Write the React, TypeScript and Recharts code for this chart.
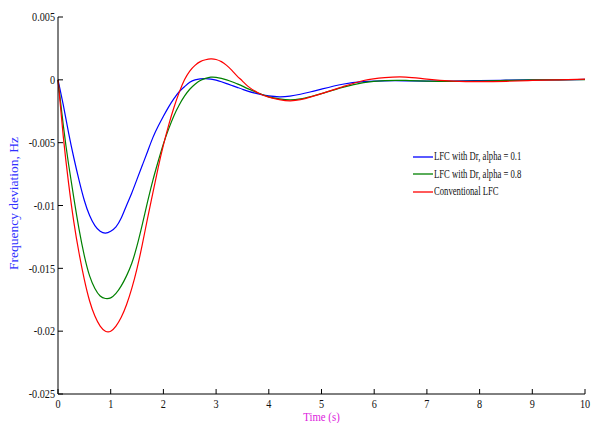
import { Legend, Line, LineChart, XAxis, YAxis } from "recharts"

const time = [
  0, 0.1, 0.2, 0.3, 0.4, 0.5, 0.6, 0.7, 0.8, 0.9, 1.0, 1.1, 1.2, 1.3, 1.4, 1.5, 1.6, 1.7, 1.8, 1.9, 2.0,
  2.1, 2.2, 2.3, 2.4, 2.5, 2.6, 2.7, 2.8, 2.9, 3.0, 3.1, 3.2, 3.3, 3.4, 3.5, 3.6,
  3.8, 4.0, 4.2, 4.4, 4.6, 4.8, 5.0, 5.4, 5.8, 6.2, 6.6, 7.0, 7.5, 8.0, 8.5, 9.0, 9.5, 10.0,
]

// values in units of 1e-3 Hz
const lfcDrAlpha01 = [
  0, -2.0, -4.2, -6.2, -8.0, -9.6, -10.8, -11.6, -12.05, -12.2, -12.05, -11.7, -11.0, -10.0, -9.0, -7.9,
  -6.8, -5.7, -4.6, -3.7, -2.9,
  -2.15, -1.5, -0.95, -0.55, -0.2, 0.0, 0.08, 0.1, 0.06, -0.02, -0.15, -0.3, -0.45, -0.6, -0.75, -0.9,
  -1.12, -1.28, -1.35, -1.3, -1.15, -0.95, -0.74, -0.35, -0.15, -0.08, -0.08, -0.1, -0.1, -0.06, -0.03, 0, 0, 0.03,
]
const lfcDrAlpha08 = [
  0, -3.6, -6.7, -9.4, -11.9, -14.0, -15.6, -16.6, -17.2, -17.4, -17.35, -17.0, -16.4, -15.6, -14.6, -13.2,
  -11.5, -9.7, -8.0, -6.5, -5.1,
  -3.9, -2.85, -2.0, -1.3, -0.75, -0.35, -0.05, 0.12, 0.21, 0.2, 0.12, 0.0, -0.15, -0.32, -0.5, -0.7,
  -1.05, -1.35, -1.52, -1.6, -1.52, -1.33, -1.1, -0.6, -0.22, -0.06, -0.05, -0.1, -0.12, -0.1, -0.05, 0, 0, 0.02,
]
const conventionalLfc = [
  0, -4.5, -8.2, -11.3, -13.8, -15.9, -17.6, -18.8, -19.6, -20.0, -20.0, -19.6, -18.9, -17.9, -16.6, -15.0,
  -13.1, -11.0, -9.0, -7.0, -5.2,
  -3.6, -2.2, -1.0, 0.0, 0.7, 1.15, 1.45, 1.6, 1.66, 1.62, 1.45, 1.15, 0.75, 0.3, -0.1, -0.5,
  -1.05, -1.38, -1.57, -1.67, -1.58, -1.36, -1.1, -0.55, -0.05, 0.18, 0.22, 0.06, -0.1, -0.15, -0.12, -0.05, 0, 0.05,
]

const xTicks = [0, 1, 2, 3, 4, 5, 6, 7, 8, 9, 10]
const yTicks = [-0.025, -0.02, -0.015, -0.01, -0.005, 0, 0.005]
const seriesNames = ["LFC with Dr, alpha = 0.1", "LFC with Dr, alpha = 0.8", "Conventional LFC"]
const seriesColors = ["#0000ff", "#008000", "#ff0000"]

const FONT = "'Liberation Serif', 'Times New Roman', serif"

const data = time.map((t, i) => ({
  t,
  a01: lfcDrAlpha01[i] / 1000,
  a08: lfcDrAlpha08[i] / 1000,
  conv: conventionalLfc[i] / 1000,
}))

function fmtY(v: number) {
  const s = String(Number(v.toFixed(3)))
  return s === "-0" ? "0" : s
}

function YTick(props: any) {
  const { x, y, payload } = props
  return (
    <text
      transform={`translate(${x},${y}) scale(0.85,1)`}
      textAnchor="end"
      dy="0.35em"
      fontSize={12}
      fontFamily={FONT}
      fill="#111"
    >
      {fmtY(payload.value)}
    </text>
  )
}

function XTick(props: any) {
  const { x, y, payload } = props
  return (
    <text
      transform={`translate(${x},${y}) scale(0.85,1)`}
      textAnchor="middle"
      dy="0.71em"
      fontSize={12}
      fontFamily={FONT}
      fill="#111"
    >
      {payload.value}
    </text>
  )
}

const EmptyTick = () => <g />

function LegendBox() {
  return (
    <div style={{ fontFamily: FONT, fontSize: 12, color: "#111", lineHeight: "17.5px" }}>
      {seriesNames.map((name, i) => (
        <div key={name} style={{ display: "flex", alignItems: "center", whiteSpace: "nowrap" }}>
          <svg width={22} height={4} style={{ display: "block" }}>
            <line x1={1} x2={21} y1={2} y2={2} stroke={seriesColors[i]} strokeWidth={1.3} />
          </svg>
          <span style={{ display: "inline-block", transform: "scaleX(0.72)", transformOrigin: "left" }}>
            {name}
          </span>
        </div>
      ))}
    </div>
  )
}

export default function App() {
  return (
    <div style={{ position: "absolute", left: 0, top: 0, background: "#fff" }}>
      <LineChart width={593} height={423} data={data} margin={{ top: 17, right: 8, bottom: 0, left: 0 }}>
        <XAxis
          dataKey="t"
          type="number"
          domain={[0, 10]}
          ticks={xTicks}
          height={29}
          tickSize={-5}
          tickMargin={10}
          stroke="#000"
          tick={XTick}
          label={{
            content: (p: any) => (
              <text
                transform={`translate(${p.viewBox.x + p.viewBox.width / 2},${p.viewBox.y + 27}) scale(0.9,1)`}
                textAnchor="middle"
                fontSize={12}
                fontFamily={FONT}
                fill="#dd22dd"
              >
                Time (s)
              </text>
            ),
          }}
        />
        <XAxis
          xAxisId="top"
          orientation="top"
          dataKey="t"
          type="number"
          domain={[0, 10]}
          ticks={xTicks}
          height={0}
          tickSize={-5}
          stroke="#000"
          tick={EmptyTick}
        />
        <YAxis
          type="number"
          domain={[-0.025, 0.005]}
          ticks={yTicks}
          width={58}
          tickSize={-5}
          tickMargin={8}
          stroke="#000"
          tick={YTick}
          label={{
            content: (p: any) => (
              <text
                transform={`translate(${p.viewBox.x + 18},${p.viewBox.y + p.viewBox.height / 2 - 2}) rotate(-90)`}
                textAnchor="middle"
                fontSize={13.5}
                fontFamily={FONT}
                fill="#3030ff"
              >
                Frequency deviation, Hz
              </text>
            ),
          }}
        />
        <YAxis
          yAxisId="right"
          orientation="right"
          type="number"
          domain={[-0.025, 0.005]}
          ticks={yTicks}
          width={0}
          tickSize={-5}
          stroke="#000"
          tick={EmptyTick}
        />
        <Legend
          layout="vertical"
          align="center"
          verticalAlign="middle"
          wrapperStyle={{ left: 412, top: 148, width: "auto" }}
          content={LegendBox}
        />
        <Line dataKey="a01" type="natural" stroke={seriesColors[0]} strokeWidth={1.2} dot={false} isAnimationActive={false} />
        <Line dataKey="a08" type="natural" stroke={seriesColors[1]} strokeWidth={1.2} dot={false} isAnimationActive={false} />
        <Line dataKey="conv" type="natural" stroke={seriesColors[2]} strokeWidth={1.2} dot={false} isAnimationActive={false} />
      </LineChart>
    </div>
  )
}
